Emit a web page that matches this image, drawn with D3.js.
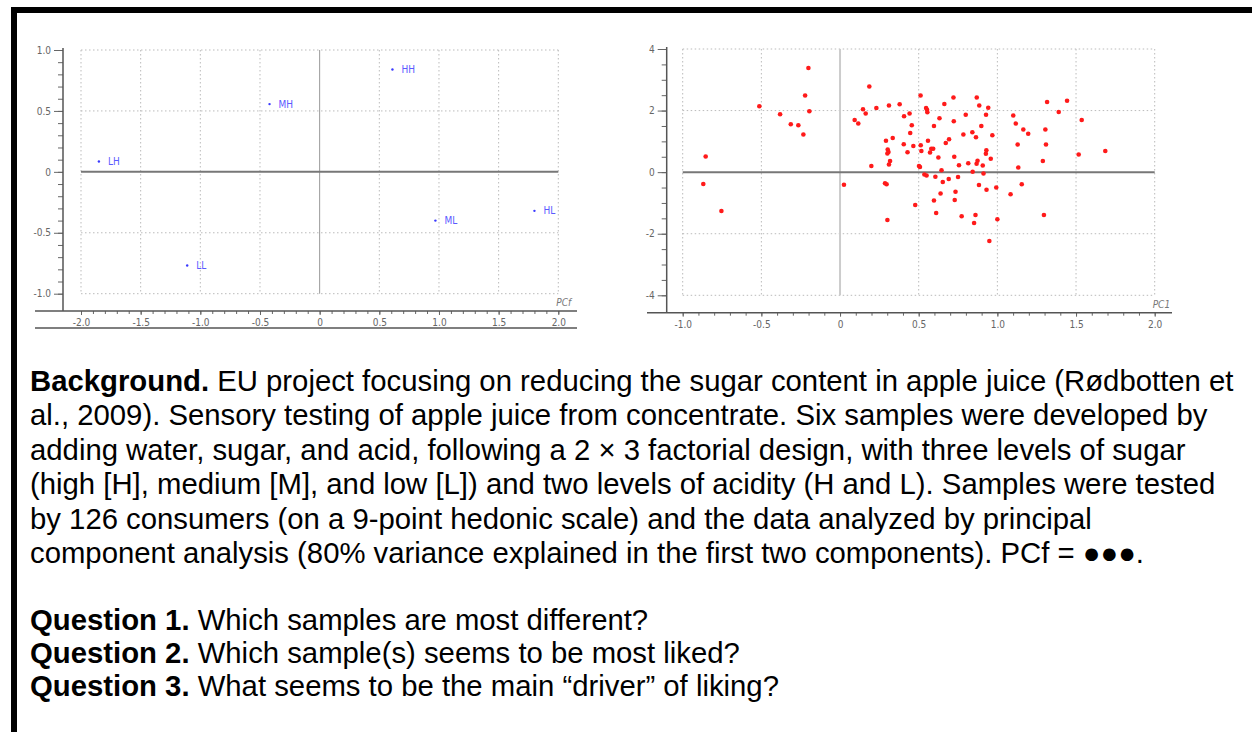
<!DOCTYPE html>
<html>
<head>
<meta charset="utf-8">
<script src="https://cdn.jsdelivr.net/npm/d3@7"></script>
<style>
  body { margin: 0; background: #fff; }
  svg { display: block; }
  .ax text { font-family: "Liberation Sans Narrow", "DejaVu Sans Condensed", sans-serif; font-size: 10px; fill: #666; }
  .ax line { stroke: #666; }
  .body { font-family: "Liberation Sans", Arial, sans-serif; font-size: 29.3px; fill: #000; }
</style>
</head>
<body>
<svg id="page" width="1252" height="732"></svg>
<script>
// sample scores (left plot)
var sampleNames = ["LH", "MH", "HH", "LL", "ML", "HL"];
var samplePC1 = [-1.85, -0.42, 0.61, -1.11, 0.97, 1.80];
var samplePC2 = [0.085, 0.556, 0.84, -0.769, -0.40, -0.32];

// consumer loadings (right plot)
var consumerPC1 = [-0.854, -0.869, -0.754, -0.513, -0.381, -0.313, -0.265, -0.233, -0.222, -0.201,
  -0.195, 0.025, 0.093, 0.116, 0.146, 0.163, 0.186, 0.231, 0.199, 0.286,
  0.296, 0.311, 0.292, 0.335, 0.379, 0.407, 0.442, 0.456, 0.446, 0.405,
  0.466, 0.429, 0.303, 0.308, 0.301, 0.318, 0.311, 0.301, 0.478, 0.512,
  0.547, 0.553, 0.555, 0.597, 0.559, 0.513, 0.517, 0.580, 0.592, 0.572,
  0.625, 0.502, 0.508, 0.536, 0.550, 0.606, 0.632, 0.663, 0.721, 0.869,
  0.885, 0.942, 0.928, 0.799, 0.723, 0.898, 0.784, 0.841, 0.864, 0.968,
  0.693, 0.672, 0.930, 0.927, 0.726, 0.958, 0.874, 0.868, 0.815, 0.756,
  0.907, 0.645, 0.843, 0.912, 0.750, 0.691, 0.653, 0.883, 0.931, 0.993,
  1.084, 0.734, 0.639, 0.729, 0.597, 0.611, 0.773, 0.861, 0.852, 1.000,
  0.949, 1.316, 1.443, 1.390, 1.101, 1.117, 1.165, 1.196, 1.305, 1.536,
  1.129, 1.309, 1.289, 1.517, 1.686, 1.133, 1.155, 1.296];
var consumerPC2 = [0.507, -0.383, -1.26, 2.14, 1.88, 1.556, 1.523, 1.221, 2.488, 3.384,
  1.978, -0.409, 1.695, 1.578, 2.043, 1.903, 2.78, 2.085, 0.201, -0.36,
  -0.393, 2.163, 1.02, 1.108, 2.205, 1.816, 1.903, 1.523, 1.27, 0.906,
  0.848, 0.646, 0.734, 0.653, 0.607, 0.36, 0.247, -1.556, -1.065, 2.488,
  2.085, 2.027, 1.945, 1.5, 1.02, 0.874, 0.689, 0.76, 0.76, 0.64,
  0.477, 0.201, 0.169, -0.075, -0.107, -0.149, 1.751, 2.212, 2.423, 2.423,
  2.163, 2.092, 1.864, 1.864, 1.653, 1.5, 1.224, 1.296, 1.133, 1.198,
  1.069, 0.948, 0.711, 0.598, 0.5, 0.435, 0.37, 0.273, 0.289, 0.224,
  0.218, 0.062, 0.013, -0.045, -0.156, -0.224, -0.318, -0.416, -0.572, -0.5,
  -0.718, -0.637, -0.695, -0.903, -0.922, -1.325, -1.432, -1.39, -1.65, -1.53,
  -2.234, 2.277, 2.319, 1.952, 1.838, 1.578, 1.387, 1.247, 1.387, 1.695,
  0.9, 0.9, 0.36, 0.572, 0.689, 0.153, -0.393, -1.393];

// tick labels
var leftXTicks = [-2, -1.5, -1, -0.5, 0, 0.5, 1, 1.5, 2];
var leftYTicks = [1, 0.5, 0, -0.5, -1];
var rightXTicks = [-1, -0.5, 0, 0.5, 1, 1.5, 2];
var rightYTicks = [4, 2, 0, -2, -4];

var bodyLines = [
  ["Background.", " EU project focusing on reducing the sugar content in apple juice (Rødbotten et"],
  ["", "al., 2009). Sensory testing of apple juice from concentrate. Six samples were developed by"],
  ["", "adding water, sugar, and acid, following a 2 \u00d7 3 factorial design, with three levels of sugar"],
  ["", "(high [H], medium [M], and low [L]) and two levels of acidity (H and L). Samples were tested"],
  ["", "by 126 consumers (on a 9-point hedonic scale) and the data analyzed by principal"],
  ["", "component analysis (80% variance explained in the first two components). PCf = \u25cf\u25cf\u25cf."]
];
var questionLines = [
  ["Question 1.", " Which samples are most different?"],
  ["Question 2.", " Which sample(s) seems to be most liked?"],
  ["Question 3.", " What seems to be the main \u201cdriver\u201d of liking?"]
];

var svg = d3.select("#page");

// page frame
svg.append("rect").attr("x", 11).attr("y", 7).attr("width", 1241).attr("height", 6).attr("fill", "#000");
svg.append("rect").attr("x", 11).attr("y", 7).attr("width", 6).attr("height", 725).attr("fill", "#000");

// plain hyphen for negatives, "0" without decimals
function fmt1(d) { return d === 0 ? "0" : d.toFixed(1); }
function fmt0(d) { return String(d); }
function tenths(a, b) { return d3.range(a * 10, b * 10 + 1).map(function(d) { return d / 10; }); }

// draws one PCA panel
function panel(o) {
  var g = svg.append("g");
  var x = d3.scaleLinear().domain(o.xDomain).range([o.left, o.right]);
  var y = d3.scaleLinear().domain(o.yDomain).range([o.bottom, o.top]);

  // dotted grid
  g.selectAll(".vg").data(o.xTicks.filter(function(d) { return d !== 0; })).enter().append("line")
    .attr("x1", x).attr("x2", x).attr("y1", y(o.yDomain[1])).attr("y2", y(o.yDomain[0]))
    .attr("stroke", "#bbb").attr("stroke-dasharray", "1.5,2.5");
  g.selectAll(".hg").data(o.yTicks.filter(function(d) { return d !== 0; })).enter().append("line")
    .attr("y1", y).attr("y2", y).attr("x1", x(o.xDomain[0])).attr("x2", x(o.xDomain[1]))
    .attr("stroke", "#bbb").attr("stroke-dasharray", "1.5,2.5");

  // zero lines
  g.append("line").attr("x1", x(0)).attr("x2", x(0)).attr("y1", y(o.yDomain[1])).attr("y2", y(o.yDomain[0]))
    .attr("stroke", o.vZeroColor).attr("stroke-width", o.vZeroWidth);
  g.append("line").attr("y1", y(0)).attr("y2", y(0)).attr("x1", x(o.xDomain[0])).attr("x2", x(o.xDomain[1]))
    .attr("stroke", "#777").attr("stroke-width", 2);

  // y axis
  g.append("g").attr("class", "ax").attr("transform", "translate(" + o.axisX + ",0)")
    .call(d3.axisLeft(y).tickValues(o.yMinor).tickSize(5).tickFormat(""))
    .call(function(s) { s.select(".domain").remove(); });
  g.append("g").attr("class", "ax").attr("transform", "translate(" + o.axisX + ",0)")
    .call(d3.axisLeft(y).tickValues(o.yTicks).tickSize(9).tickPadding(3).tickFormat(o.yFormat))
    .call(function(s) { s.select(".domain").remove(); });
  g.append("line").attr("x1", o.axisX).attr("x2", o.axisX).attr("y1", o.top - 2).attr("y2", o.axisY)
    .attr("stroke", "#555").attr("stroke-width", 1.5);

  // x axis
  g.append("g").attr("class", "ax").attr("transform", "translate(0," + o.axisY + ")")
    .call(d3.axisBottom(x).tickValues(tenths(o.xDomain[0], o.xDomain[1])).tickSize(3).tickPadding(5).tickFormat(""))
    .call(function(s) { s.select(".domain").remove(); });
  g.append("g").attr("class", "ax").attr("transform", "translate(0," + o.axisY + ")")
    .call(d3.axisBottom(x).tickValues(o.xTicks).tickSize(4).tickPadding(4).tickFormat(fmt1))
    .call(function(s) { s.select(".domain").remove(); });
  g.append("line").attr("x1", o.frameLeft).attr("x2", o.frameRight).attr("y1", o.axisY).attr("y2", o.axisY)
    .attr("stroke", "#555").attr("stroke-width", 1.5);
  if (o.underline) {
    g.append("line").attr("x1", o.frameLeft).attr("x2", o.frameRight).attr("y1", o.underline).attr("y2", o.underline)
      .attr("stroke", "#555").attr("stroke-width", 1.5);
  }

  g.append("text").attr("x", x(o.xDomain[1]) - 2).attr("y", o.axisY - 5)
    .attr("font-family", "Liberation Sans Narrow, DejaVu Sans Condensed, sans-serif")
    .attr("font-size", 10).attr("font-style", "italic").attr("fill", "#777").text(o.axisName);
  return { g: g, x: x, y: y };
}

var left = panel({
  xDomain: [-2, 2], yDomain: [-1, 1],
  left: 81, right: 558.3, top: 50, bottom: 293.7,
  axisX: 63, axisY: 311, frameLeft: 35, frameRight: 577, underline: 328,
  xTicks: leftXTicks, yTicks: leftYTicks, yMinor: tenths(-1, 1), yFormat: fmt1,
  vZeroColor: "#999", vZeroWidth: 1, axisName: "PCf"
});

var right = panel({
  xDomain: [-1, 2], yDomain: [-4, 4],
  left: 682.7, right: 1154.7, top: 49, bottom: 295.3,
  axisX: 666.7, axisY: 312.7, frameLeft: 647, frameRight: 1172, underline: null,
  xTicks: rightXTicks, yTicks: rightYTicks, yMinor: d3.range(-8, 9).map(function(d) { return d / 2; }),
  yFormat: fmt0,
  vZeroColor: "#ccc", vZeroWidth: 2, axisName: "PC1"
});

// sample points + labels
var samples = sampleNames.map(function(n, i) { return { name: n, pc1: samplePC1[i], pc2: samplePC2[i] }; });
left.g.selectAll(".pt").data(samples).enter().append("circle")
  .attr("cx", function(d) { return left.x(d.pc1); })
  .attr("cy", function(d) { return left.y(d.pc2); })
  .attr("r", 1.2).attr("fill", "#3a3aff");
left.g.selectAll(".lb").data(samples).enter().append("text")
  .attr("x", function(d) { return left.x(d.pc1) + 9; })
  .attr("y", function(d) { return left.y(d.pc2) + 3.5; })
  .attr("font-family", "Liberation Sans Narrow, DejaVu Sans Condensed, sans-serif")
  .attr("font-size", 10).attr("fill", "#5a5aff")
  .text(function(d) { return d.name; });

// consumer points
right.g.selectAll(".cp").data(consumerPC1).enter().append("circle")
  .attr("cx", function(d) { return right.x(d); })
  .attr("cy", function(d, i) { return right.y(consumerPC2[i]); })
  .attr("r", 2.3).attr("fill", "#ff1a1a");

// text block
function writeLines(lines, y0, step) {
  lines.forEach(function(l, i) {
    var t = svg.append("text").attr("class", "body").attr("x", 30).attr("y", y0 + i * step);
    if (l[0]) t.append("tspan").attr("font-weight", "bold").text(l[0]);
    t.append("tspan").text(l[1]);
  });
}
writeLines(bodyLines, 391, 34.4);
writeLines(questionLines, 630, 33);
</script>
</body>
</html>
